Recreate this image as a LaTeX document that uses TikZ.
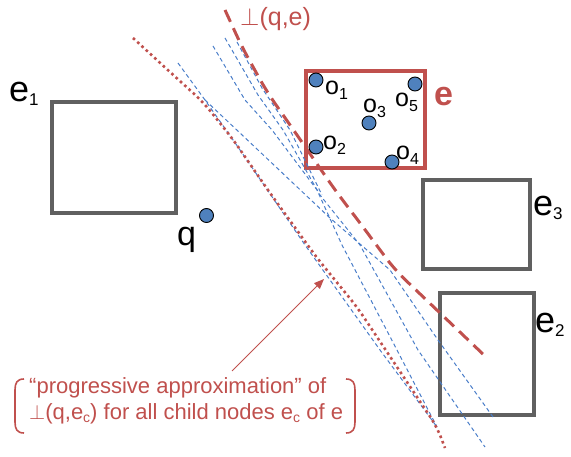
\documentclass[tikz,border=0pt]{standalone}
\usepackage{fontspec}
\setmainfont{Liberation Sans}
\usetikzlibrary{arrows.meta}
\definecolor{myred}{RGB}{192,80,77}
\definecolor{myblue}{RGB}{79,129,189}
\definecolor{lineblue}{RGB}{74,126,201}
\definecolor{mygray}{RGB}{96,96,96}
\newcommand{\sbs}[3]{\raisebox{-#1pt}{\fontsize{#2}{#2}\selectfont #3}}
\begin{document}
\begin{tikzpicture}[x=1pt,y=-1pt,
  graybox/.style={draw=mygray, line width=4pt, inner sep=0pt},
  redbox/.style={draw=myred, line width=4pt, inner sep=0pt},
  pt/.style={circle, fill=myblue, draw=black, line width=0.9pt, minimum size=14pt, inner sep=0pt},
  lbl/.style={inner sep=0pt, anchor=base west},
  biglbl/.style={lbl, font=\fontsize{36}{36}\selectfont},
  olbl/.style={lbl, font=\fontsize{25}{25}\selectfont},
  bluedash/.style={draw=lineblue, line width=1pt, dash pattern=on 4pt off 3pt},
  reddot/.style={draw=myred, line width=2.6pt, dash pattern=on 2.6pt off 3.2pt, rounded corners=12pt},
  reddash/.style={draw=myred, line width=3pt, dash pattern=on 13pt off 7pt, rounded corners=14pt},
  bracket/.style={draw=myred, line width=1.6pt}
]
\useasboundingbox (0,0) rectangle (571,457);

% boxes
\node[graybox, minimum width=124pt, minimum height=111pt] (e1) at (114,157.5) {};
\node[graybox, minimum width=107pt, minimum height=89pt] (e3) at (476.5,224.5) {};
\node[graybox, minimum width=94pt, minimum height=122pt] (e2) at (487,354) {};
\node[redbox, minimum width=119pt, minimum height=97pt] (e) at (365.5,119.5) {};

% blue dashed approximations
\draw[bluedash] (178,63) -- (205,100) -- (238,147) -- (305,245) -- (380,350) -- (437,427);
\draw[bluedash] (205,100) -- (240,133) -- (330,218) -- (390,270) -- (438,340) -- (493,417);
\draw[bluedash] (213,46) -- (245,100) -- (272,130) -- (317,190) -- (342,245) -- (397,350) -- (437,427);
\draw[bluedash] (225,38) -- (258,95) -- (283,130) -- (320,195) -- (360,245) -- (418,350) -- (485,447);
\draw[bluedash] (237,42) -- (262,88) -- (290,130) -- (322,195);

% red dotted
\draw[reddot] (133,38) -- (170,72) -- (203,102) -- (232,138) -- (270,193) -- (317,258) -- (357,307) -- (437,427) -- (445,448);
% red dashed bisector
\draw[reddash] (225,10) -- (242,47) -- (267,92) -- (297,135) -- (335,190) -- (360,223) -- (395,270) -- (440,313) -- (486,357);

% points
\node[pt] (o1) at (316,80) {};
\node[pt] (o5) at (415,84) {};
\node[pt] (o3) at (369,123) {};
\node[pt] (o2) at (316,147) {};
\node[pt] (o4) at (392,162) {};
\node[pt] (q) at (206.5,215.5) {};

% labels
\node[olbl] (lo1) at (325,95) {o\sbs{5}{16}{1}};
\node[olbl] (lo3) at (363,113) {o\sbs{5}{16}{3}};
\node[olbl] (lo5) at (395,107) {o\sbs{5}{16}{5}};
\node[olbl] (lo2) at (323,150) {o\sbs{5}{16}{2}};
\node[olbl] (lo4) at (396,160) {o\sbs{5}{16}{4}};
\node[biglbl] (le1) at (9,102) {e\sbs{4}{17}{1}};
\node[biglbl] (le3) at (533,216) {e\sbs{4}{17}{3}};
\node[biglbl] (le2) at (535,333) {e\sbs{4}{17}{2}};
\node[lbl, font=\fontsize{34}{34}\selectfont] (lq) at (177,246) {q};
\node[lbl, text=myred, font=\fontsize{34}{34}\selectfont\bfseries] (le) at (434,106) {e};
\node[lbl, text=myred, font=\fontsize{25}{25}\selectfont] (lperp) at (240,26) {$\perp$(q,e)};

% note
\node[inner sep=0pt, anchor=west, align=left, text=myred, font=\fontsize{22}{26}\selectfont] (note) at (29,401)
  {“progressive approximation” of\\$\perp$(q,e\sbs{3}{14}{c}) for all child nodes e\sbs{3}{14}{c} of e};
\draw[bracket] (24,379) .. controls (17,379) and (15,383) .. (15,390) -- (15,422) .. controls (15,429) and (17,433) .. (24,433);
\draw[bracket] (346,379) .. controls (353,379) and (355,383) .. (355,390) -- (355,422) .. controls (355,429) and (353,433) .. (346,433);
\coordinate (arrS) at (232,371);
\coordinate (arrE) at (324,279);
\draw[myred, line width=1pt, -{Triangle[length=10pt,width=8pt]}] (arrS) -- (arrE);
\end{tikzpicture}
\end{document}
